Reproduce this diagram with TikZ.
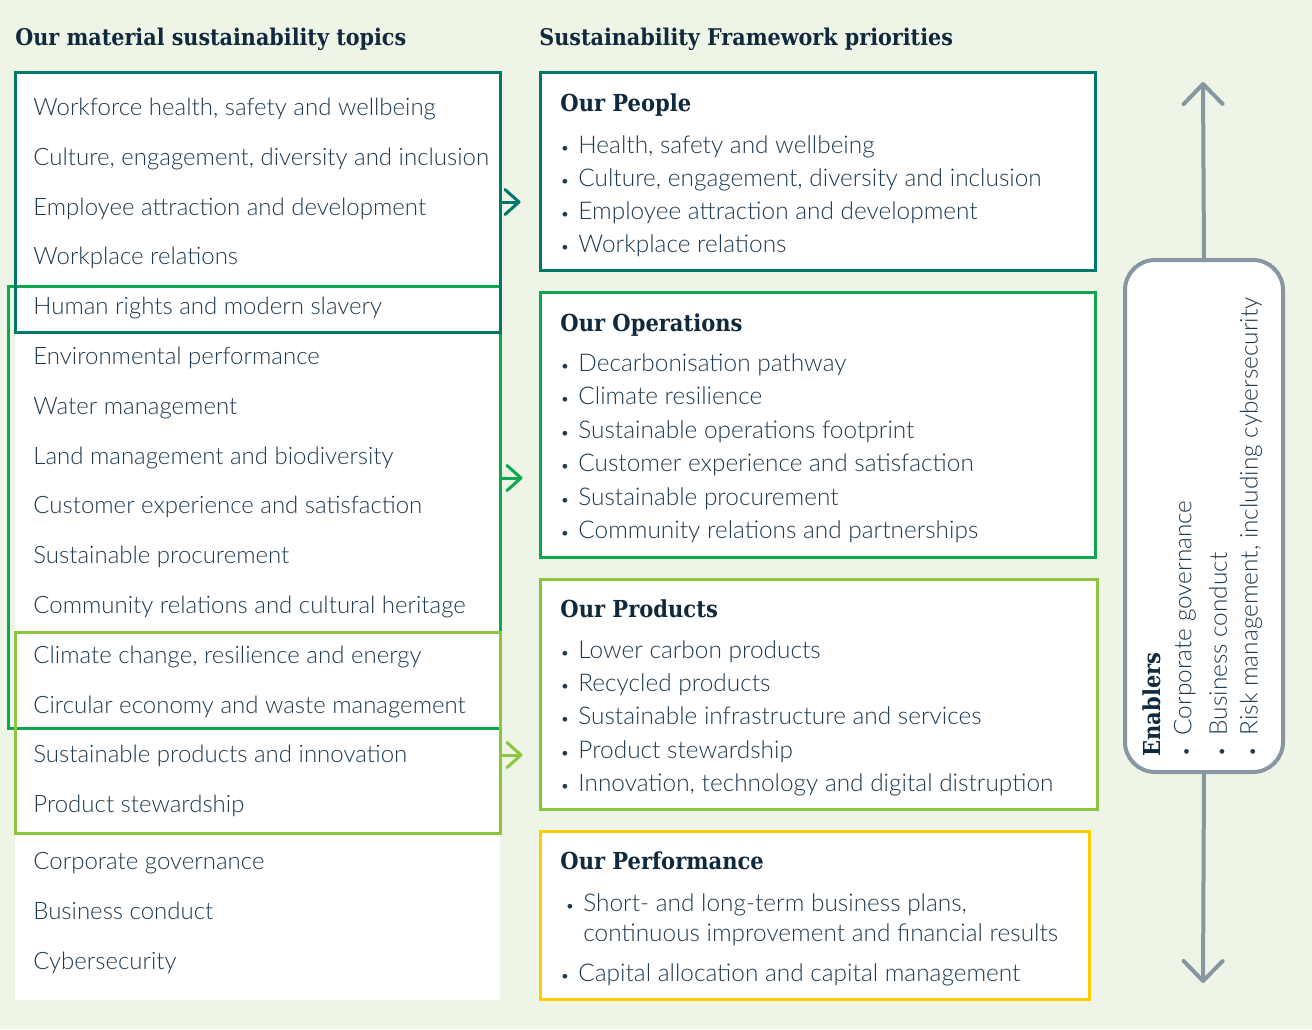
\documentclass[tikz,border=0pt]{standalone}
\usepackage{fontspec}
\setmainfont{Lato Light}
\newfontfamily\slab{DejaVu Serif Condensed}
\usetikzlibrary{arrows.meta,fit}

\definecolor{paper}{HTML}{EFF5E6}
\definecolor{ink}{HTML}{1D3A50}
\definecolor{headink}{HTML}{10293D}
\definecolor{peopleteal}{HTML}{00776B}
\definecolor{opsgreen}{HTML}{0DA84E}
\definecolor{prodlime}{HTML}{8CC63F}
\definecolor{perfgold}{HTML}{FFCC00}
\definecolor{enablegrey}{HTML}{8896A1}

\begin{document}
\begin{tikzpicture}[x=0.5pt,y=-0.5pt]
	\tikzstyle{heading} = [anchor=base west, inner sep=0, yshift=-4pt, text=headink, font=\slab\bfseries\fontsize{11.5}{13}\selectfont]
	\tikzstyle{boxtitle} = [heading, font=\slab\bfseries\fontsize{11.7}{13}\selectfont]
	\tikzstyle{topic} = [anchor=base west, inner sep=0, yshift=-4.2pt, text=ink, font=\fontsize{12}{14}\selectfont]
	\tikzstyle{item} = [anchor=base west, inner sep=0, yshift=-4.2pt, text=ink, font=\fontsize{12.2}{15}\selectfont]
	\tikzstyle{dot} = [item, font=\fontsize{8}{10}\selectfont]
	\tikzstyle{enab} = [anchor=west, inner sep=0, rotate=90, text=ink, font=\fontsize{12.2}{15}\selectfont]
	\tikzstyle{frame} = [draw, line width=1.5pt, inner sep=0]
	\tikzstyle{link} = [line width=1.5pt, -{Straight Barb[length=7pt,width=12.5pt,round]}]
	\tikzstyle{axis} = [enablegrey, line width=2pt, -{Straight Barb[length=10pt,width=19.5pt,round]}]

	% page and the white panel behind the topics
	\fill[paper] (0,0) rectangle (1312,1029);
	\useasboundingbox (0,0) rectangle (1312,1029);
	\fill[white] (15,72) rectangle (500,1000);

	\node[heading] (hleft) at (15,37) {Our material sustainability topics};
	\node[heading] (hright) at (539,37) {Sustainability Framework priorities};

	% material topics
	\foreach \t [count=\i] in {{Workforce health, safety and wellbeing},
			{Culture, engagement, diversity and inclusion},
			Employee attraction and development, Workplace relations,
			Human rights and modern slavery, Environmental performance,
			Water management, Land management and biodiversity,
			Customer experience and satisfaction, Sustainable procurement,
			Community relations and cultural heritage,
			{Climate change, resilience and energy},
			Circular economy and waste management,
			Sustainable products and innovation, Product stewardship} {
		\node[topic] (topic\i) at (33,{107+49.8*(\i-1)}) {\t};
	}
	\node[topic] (topic16) at (33,861) {Corporate governance};
	\node[topic] (topic17) at (33,911) {Business conduct};
	\node[topic] (topic18) at (33,961) {Cybersecurity};

	% groups of topics
	\node[frame, draw=opsgreen, fit={(8,286) (500,728)}] (grpops) {};
	\node[frame, draw=prodlime, fit={(15,632) (500,833)}] (grpprod) {};
	\node[frame, draw=peopleteal, fit={(15,72) (500,332)}] (grppeople) {};

	% framework priorities
	\node[frame, draw=peopleteal, fill=white, fit={(540,72) (1095,270)}] (people) {};
	\node[frame, draw=opsgreen, fill=white, fit={(540,292) (1095,557)}] (ops) {};
	\node[frame, draw=prodlime, fill=white, fit={(540,579) (1097,809)}] (prod) {};
	\node[frame, draw=perfgold, fill=white, fit={(540,831) (1089,999)}] (perf) {};

	\node[boxtitle] (tpeople) at (560,103) {Our People};
	\node[boxtitle] (tops) at (560,323) {Our Operations};
	\node[boxtitle] (tprod) at (560,609) {Our Products};
	\node[boxtitle] (tperf) at (560,861) {Our Performance};

	\foreach \t [count=\i] in {{Health, safety and wellbeing},
			{Culture, engagement, diversity and inclusion},
			Employee attraction and development, Workplace relations} {
		\node[dot] (bp\i) at (560,{145+33.1*(\i-1)}) {\textbullet};
		\node[item] (people\i) at (578,{145+33.1*(\i-1)}) {\t};
	}
	\foreach \t [count=\i] in {Decarbonisation pathway, Climate resilience,
			Sustainable operations footprint, Customer experience and satisfaction,
			Sustainable procurement, Community relations and partnerships} {
		\node[dot] (bo\i) at (560,{363+33.4*(\i-1)}) {\textbullet};
		\node[item] (ops\i) at (578,{363+33.4*(\i-1)}) {\t};
	}
	\foreach \t [count=\i] in {Lower carbon products, Recycled products,
			Sustainable infrastructure and services, Product stewardship,
			{Innovation, technology and digital distruption}} {
		\node[dot] (bd\i) at (560,{650+33.2*(\i-1)}) {\textbullet};
		\node[item] (prod\i) at (578,{650+33.2*(\i-1)}) {\t};
	}
	\node[dot] (bf1) at (565,903) {\textbullet};
	\node[item] (perf1a) at (583,903) {Short- and long-term business plans,};
	\node[item] (perf1b) at (583,933) {continuous improvement and financial results};
	\node[dot] (bf2) at (560,973) {\textbullet};
	\node[item] (perf2) at (578,973) {Capital allocation and capital management};

	% topics feed the priorities
	\draw[link, peopleteal, shorten >=9pt] (grppeople.east |- 0,202) -- (people.west |- 0,202);
	\draw[link, opsgreen, shorten >=8pt] (grpops.east |- 0,478) -- (ops.west |- 0,478);
	\draw[link, prodlime, shorten >=8pt] (grpprod.east |- 0,755) -- (prod.west |- 0,755);

	% enablers run across all priorities
	\node[draw=enablegrey, line width=2pt, fill=white, rounded corners=15pt,
		inner sep=0, fit={(1125,260) (1283,772)}] (enablers) {};
	\coordinate (enabtop) at (1203,82);
	\coordinate (enabbot) at (1203,983);
	\draw[axis] (enablers.north) -- (enabtop);
	\draw[axis] (enablers.south) -- (enabbot);

	\node[enab, text=headink, font=\slab\bfseries\fontsize{11.7}{13}\selectfont] (enabtitle) at (1152,757) {Enablers};
	\node[enab] (enab1) at (1185,757) {{\fontsize{8}{10}\selectfont\textbullet}\hspace{6pt}Corporate governance};
	\node[enab] (enab2) at (1218,757) {{\fontsize{8}{10}\selectfont\textbullet}\hspace{6pt}Business conduct};
	\node[enab] (enab3) at (1251,757) {{\fontsize{8}{10}\selectfont\textbullet}\hspace{6pt}Risk management, including cybersecurity};

\end{tikzpicture}
\end{document}
